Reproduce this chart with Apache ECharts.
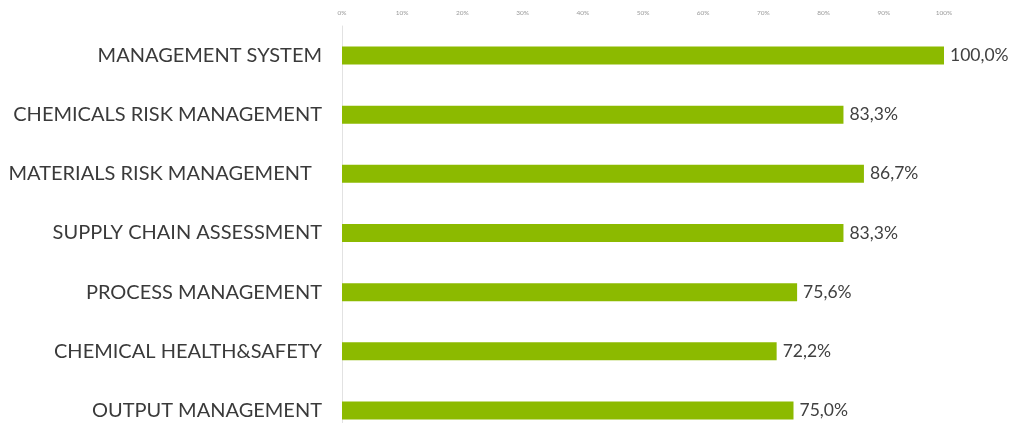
<!DOCTYPE html>
<html>
<head>
<meta charset="utf-8">
<script src="https://cdn.jsdelivr.net/npm/echarts@6/dist/echarts.min.js"></script>
<style>
  html, body { margin: 0; padding: 0; background: #ffffff; }
  #chart { width: 1018px; height: 423px; }
</style>
</head>
<body>
<div id="chart"></div>
<script>
// Share of companies covering each chemical-management area (%)
const categories = [
  'MANAGEMENT SYSTEM',
  'CHEMICALS RISK MANAGEMENT',
  'MATERIALS RISK MANAGEMENT  ',
  'SUPPLY CHAIN ASSESSMENT',
  'PROCESS MANAGEMENT',
  'CHEMICAL HEALTH&SAFETY',
  'OUTPUT MANAGEMENT'
];
const values = [100.0, 83.3, 86.7, 83.3, 75.6, 72.2, 75.0];
const tickValues = [0, 10, 20, 30, 40, 50, 60, 70, 80, 90, 100];

const chart = echarts.init(document.getElementById('chart'));
chart.setOption({
  backgroundColor: '#ffffff',
  animation: false,
  grid: {
    left: 342, width: 602, top: 26, height: 414,
    containLabel: false,
    outerBoundsMode: 'none'
  },
  xAxis: {
    type: 'value',
    position: 'top',
    min: tickValues[0],
    max: tickValues[tickValues.length - 1],
    interval: 10,
    axisLine: { show: false },
    axisTick: { show: false },
    splitLine: { show: false },
    axisLabel: {
      formatter: v => v + '%',
      fontFamily: 'Lato',
      fontSize: 6.5,
      color: '#9a9a9a',
      margin: 10
    }
  },
  yAxis: {
    type: 'category',
    inverse: true,
    data: categories,
    axisLine: { show: true, lineStyle: { color: '#e2e2e2', width: 1 } },
    axisTick: { show: false },
    axisLabel: {
      fontFamily: 'Lato',
      fontSize: 20,
      color: '#3a3a3a',
      margin: 20
    }
  },
  series: [{
    type: 'bar',
    data: values,
    barWidth: 18,
    itemStyle: { color: '#8cba00' },
    label: {
      show: true,
      position: 'right',
      distance: 6,
      formatter: p => p.value.toFixed(1).replace('.', ',') + '%',
      fontFamily: 'Lato',
      fontSize: 17.5,
      color: '#404040'
    }
  }]
});
</script>
</body>
</html>
